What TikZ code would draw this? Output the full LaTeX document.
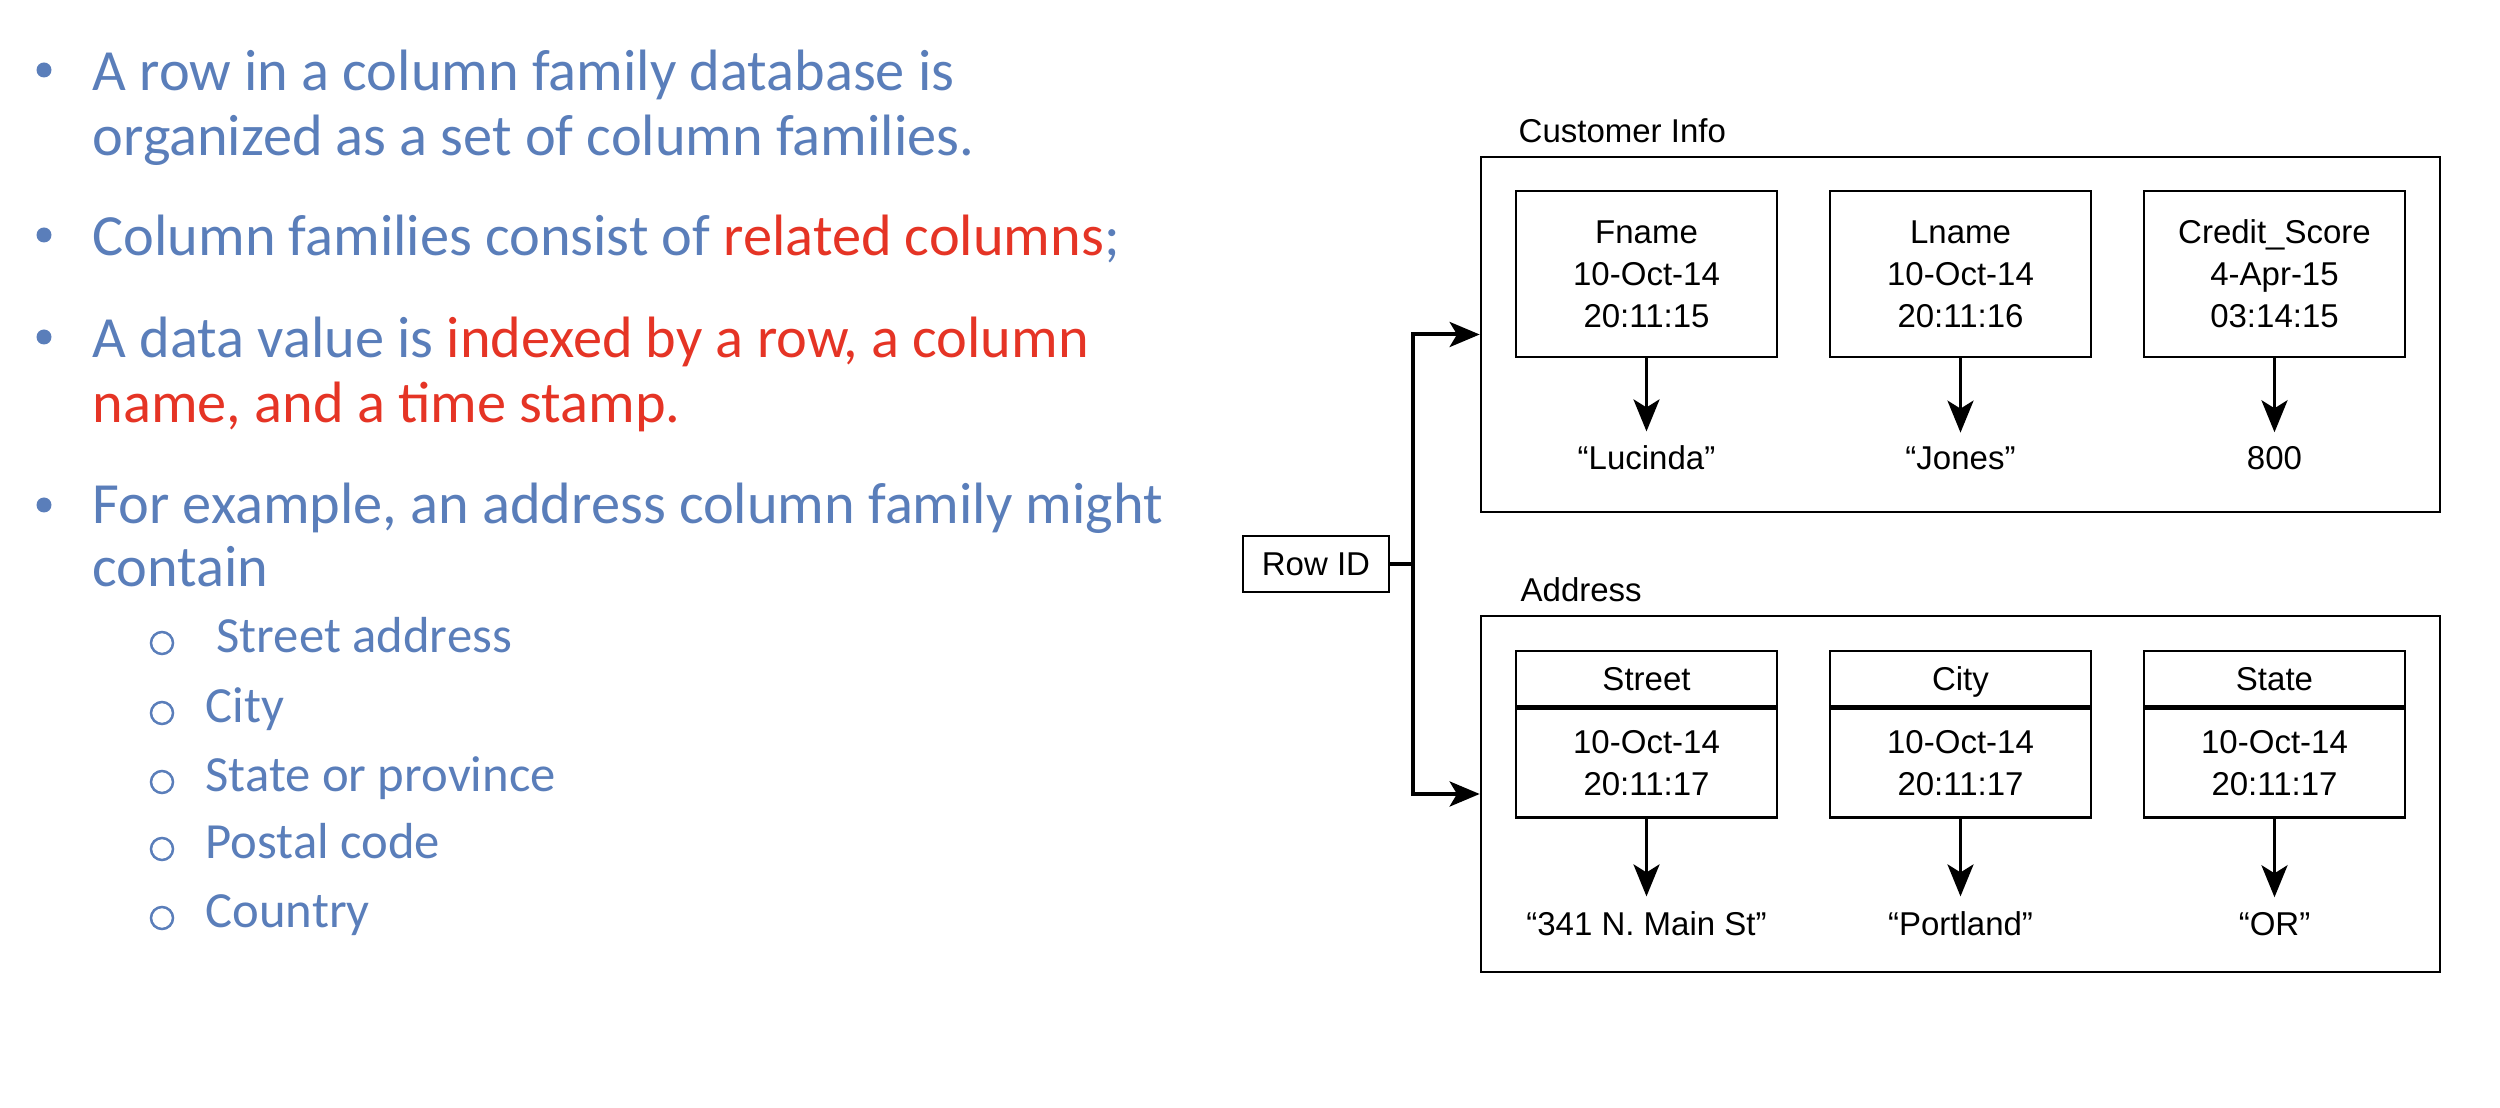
\documentclass[tikz,border=0pt]{standalone}
\usepackage{fontspec}
\setmainfont{Liberation Sans}
\newfontfamily\calibfont{Carlito}
\usetikzlibrary{arrows.meta}
\definecolor{txtblue}{RGB}{90,126,186}
\definecolor{txtred}{RGB}{229,52,37}
\newcommand\mainfnt{\calibfont\fontsize{17.5pt}{20pt}\selectfont}
\newcommand\subfnt{\calibfont\fontsize{15.2pt}{18pt}\selectfont}
\newcommand\diagfnt{\fontsize{9.9pt}{12.6pt}\selectfont}
\begin{document}
\begin{tikzpicture}[x=0.3pt,y=-0.3pt,
  ltext/.style={anchor=base west, inner sep=0pt, font=\mainfnt, text=txtblue},
  stext/.style={anchor=base west, inner sep=0pt, font=\subfnt, text=txtblue},
  outerbox/.style={draw, line width=0.8pt, inner sep=0pt},
  lbl/.style={anchor=base west, inner sep=0pt, font=\diagfnt},
  colbox/.style={draw, line width=0.8pt, inner sep=0pt, align=center, font=\diagfnt,
    minimum width=78.3pt, minimum height=49.8pt},
  hdrbox/.style={draw, line width=0.8pt, inner sep=0pt, font=\diagfnt,
    minimum width=78.3pt, minimum height=16.5pt, text height=7.1pt, text depth=0pt},
  bodybox/.style={draw, line width=0.8pt, inner sep=0pt, align=center, font=\diagfnt,
    minimum width=78.3pt, minimum height=32.7pt, anchor=north},
  valnode/.style={anchor=base, inner xsep=0pt, inner ysep=4.2pt, font=\diagfnt},
  varr/.style={line width=1.05pt, -{Stealth[length=9.6pt,width=7.8pt,inset=2.4pt]}},
  conn/.style={line width=1.2pt, line join=miter},
  carr/.style={conn, -{Stealth[length=9pt,width=7.5pt,inset=2.2pt]}}
]
\useasboundingbox (0,0) rectangle (2500,1108);

% ---------- left text ----------
\fill[txtblue] (44,70) circle[radius=2.25pt];
\fill[txtblue] (44,235) circle[radius=2.25pt];
\fill[txtblue] (44,337) circle[radius=2.25pt];
\fill[txtblue] (44,505) circle[radius=2.25pt];
\node[ltext] (l1) at (92,91) {A row in a column family database is};
\node[ltext] (l2) at (92,156) {organized as a set of column families.};
\node[ltext] (l3) at (92,256) {Column families consist of \textcolor{txtred}{related columns};};
\node[ltext] (l4) at (92,358) {A data value is \textcolor{txtred}{indexed by a row, a column}};
\node[ltext, text=txtred] (l5) at (92,423) {name, and a time stamp.};
\node[ltext] (l6) at (92,524) {For example, an address column family might};
\node[ltext] (l7) at (92,587) {contain};

\foreach \yy in {643,713,782,849,918}
  \draw[txtblue, line width=0.75pt] (162,\yy) circle[radius=3.3pt];
\node[stext] (s1) at (216,653) {Street address};
\node[stext] (s2) at (205,723) {City};
\node[stext] (s3) at (205,792) {State or province};
\node[stext] (s4) at (205,859) {Postal code};
\node[stext] (s5) at (205,928) {Country};

% ---------- diagram ----------
\node[outerbox, minimum width=287.7pt, minimum height=106.5pt] (ci) at (1960.5,334.5) {};
\node[outerbox, minimum width=287.7pt, minimum height=106.8pt] (ad) at (1960.5,794) {};
\node[lbl] (cil) at (1518,143) {Customer Info};
\node[lbl] (adl) at (1520,602) {Address};

\node[colbox] (fname) at (1646.5,274) {Fname\\10-Oct-14\\20:11:15};
\node[colbox] (lname) at (1960.5,274) {Lname\\10-Oct-14\\20:11:16};
\node[colbox] (credit) at (2274.5,274) {Credit\_Score\\4-Apr-15\\03:14:15};
\node[valnode] (v1) at (1646.5,470) {“Lucinda”};
\node[valnode] (v2) at (1960.5,470) {“Jones”};
\node[valnode] (v3) at (2274.5,470) {800};
\draw[varr] (fname.south) -- (v1.north);
\draw[varr] (lname.south) -- (v2.north);
\draw[varr] (credit.south) -- (v3.north);

\node[hdrbox] (sth) at (1646.5,678.5) {Street};
\node[hdrbox] (cyh) at (1960.5,678.5) {City};
\node[hdrbox] (sah) at (2274.5,678.5) {State};
\node[bodybox] (stb) at (sth.south) {10-Oct-14\\20:11:17};
\node[bodybox] (cyb) at (cyh.south) {10-Oct-14\\20:11:17};
\node[bodybox] (sab) at (sah.south) {10-Oct-14\\20:11:17};
\node[valnode] (v4) at (1646.5,935) {“341 N. Main St”};
\node[valnode] (v5) at (1960.5,935) {“Portland”};
\node[valnode] (v6) at (2274.5,935) {“OR”};
\draw[varr] (stb.south) -- (v4.north);
\draw[varr] (cyb.south) -- (v5.north);
\draw[varr] (sab.south) -- (v6.north);

\node[draw, line width=0.8pt, inner sep=0pt, font=\diagfnt,
  minimum width=43.8pt, minimum height=16.8pt] (rid) at (1316,564) {Row ID};
\coordinate (jn) at (1413,564);
\draw[conn] (rid.east) -- (jn);
\draw[carr] (jn) |- (ci.west);
\draw[carr] (jn) |- (ad.west);
\end{tikzpicture}
\end{document}
